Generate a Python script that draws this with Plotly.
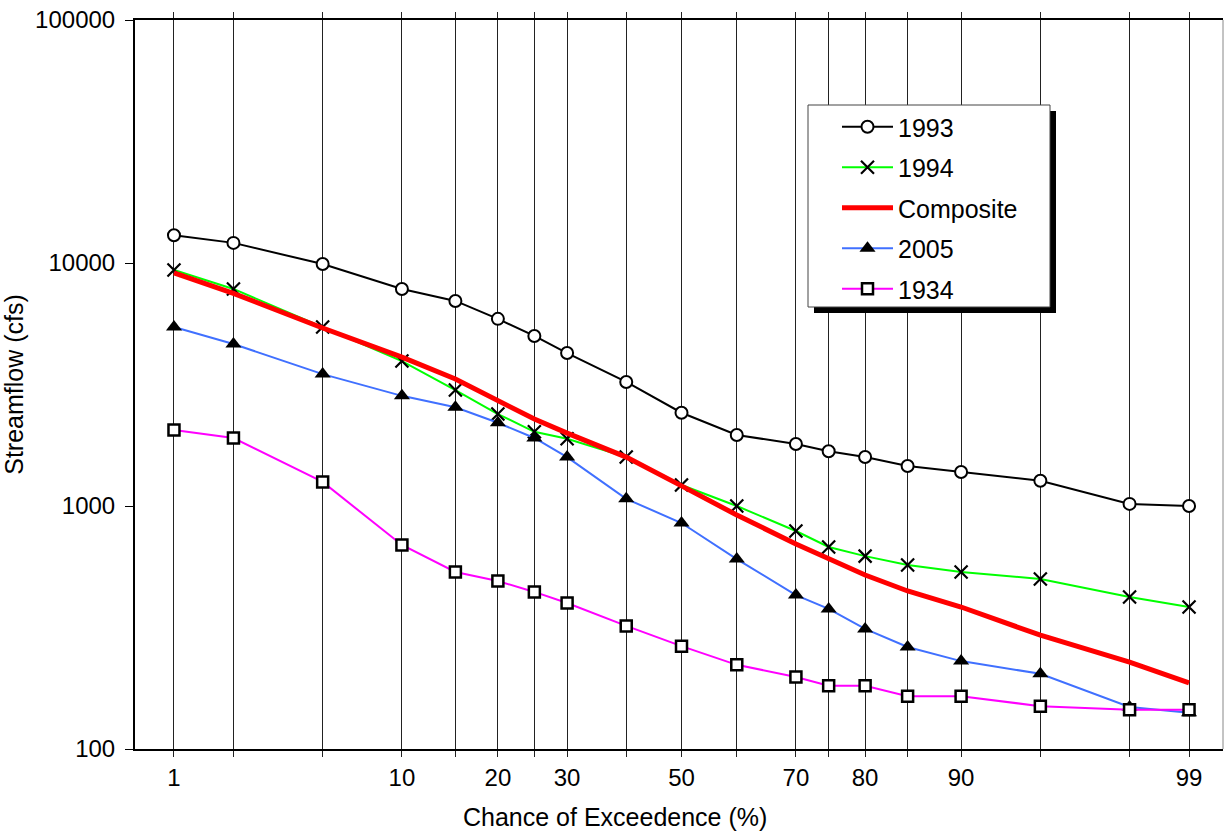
import plotly.graph_objects as go
from statistics import NormalDist

# Chance of exceedence (%) at each plotted point
pct = [1, 2, 5, 10, 15, 20, 25, 30, 40, 50, 60, 70, 75, 80, 85, 90, 95, 98, 99]
tick_labels = ["1", "", "", "10", "", "20", "", "30", "", "50", "", "70", "", "80", "", "90", "", "", "99"]

flow_1993 = [13000, 12100, 9900, 7820, 6980, 5890, 5010, 4260, 3240, 2420, 1960, 1800, 1680, 1590, 1460, 1380, 1270, 1020, 1000]
flow_1994 = [9360, 7820, 5450, 3950, 3000, 2390, 2020, 1890, 1590, 1220, 1000, 789, 678, 622, 572, 535, 501, 422, 384]
flow_comp = [9100, 7500, 5400, 4100, 3330, 2730, 2280, 1995, 1590, 1210, 918, 698, 605, 520, 447, 384, 294, 228, 187]
flow_2005 = [5450, 4640, 3490, 2840, 2550, 2200, 1905, 1590, 1070, 851, 605, 430, 377, 312, 263, 230, 204, 149, 141]
flow_1934 = [2055, 1905, 1256, 691, 535, 491, 443, 399, 321, 265, 222, 198, 182, 182, 165, 165, 150, 145, 145]

nd = NormalDist()
z = [nd.inv_cdf(p / 100.0) for p in pct]

FONT = "Liberation Sans, Arial, sans-serif"
fig = go.Figure()

fig.add_trace(go.Scatter(x=z, y=flow_1993, name="1993", mode="lines+markers", legendgroup="a",
                         line=dict(color="black", width=2),
                         marker=dict(symbol="circle", size=12, color="white",
                                     line=dict(color="black", width=2))))
fig.add_trace(go.Scatter(x=z, y=flow_1994, name="1994", mode="lines+markers", legendgroup="b",
                         line=dict(color="#00ff00", width=2),
                         marker=dict(symbol="x-thin", size=13, color="black",
                                     line=dict(color="black", width=2.2))))
fig.add_trace(go.Scatter(x=z, y=flow_comp, name="Composite", mode="lines", legendgroup="c",
                         line=dict(color="#ff0000", width=5)))
fig.add_trace(go.Scatter(x=z, y=flow_2005, name="2005", mode="lines+markers", legendgroup="d",
                         line=dict(color="#4070ff", width=2),
                         marker=dict(symbol="triangle-up", size=14, color="black",
                                     line=dict(color="black", width=0))))
fig.add_trace(go.Scatter(x=z, y=flow_1934, name="1934", mode="lines+markers", legendgroup="e",
                         line=dict(color="#ff00ff", width=2),
                         marker=dict(symbol="square", size=11, color="white",
                                     line=dict(color="black", width=2.5))))

W_PLOT = 1225 - 135 - 2
H_PLOT = 832 - 20 - 83
def px(xp):
    return (xp - 135) / W_PLOT
def py(yp):
    return (749 - yp) / H_PLOT

fig.update_layout(
    width=1225, height=832,
    margin=dict(l=135, r=2, t=20, b=83),
    paper_bgcolor="white", plot_bgcolor="white",
    font=dict(family=FONT, size=24, color="black"),
    showlegend=True,
    legend=dict(x=px(837), y=py(104), xanchor="left", yanchor="top",
                bgcolor="rgba(0,0,0,0)", borderwidth=0,
                font=dict(family=FONT, size=25, color="black"),
                itemwidth=51, traceorder="grouped", tracegroupgap=5),
    xaxis=dict(range=[-2.505, 2.482], tickmode="array", tickvals=z, ticktext=tick_labels,
               showgrid=True, gridcolor="#222222", gridwidth=1,
               ticks="outside", ticklen=6, tickcolor="#222222", tickwidth=1,
               showline=True, linecolor="black", linewidth=2, mirror="allticks",
               zeroline=False, tickfont=dict(size=24)),
    yaxis=dict(type="log", range=[2, 5], tickmode="array",
               tickvals=[100, 1000, 10000, 100000], ticktext=["100", "1000", "10000", "100000"],
               showgrid=False, ticks="outside", ticklen=8, tickcolor="black", tickwidth=1,
               showline=True, linecolor="black", linewidth=2, mirror=False,
               zeroline=False, ticklabelstandoff=5,
               title=dict(text="Streamflow (cfs)", standoff=6, font=dict(size=25)),
               tickfont=dict(size=24)),
)
# x-axis title centred on the figure
fig.add_annotation(text="Chance of Exceedence (%)", xref="paper", yref="paper",
                   x=px(615), y=0, yshift=-68, xanchor="center", yanchor="middle",
                   showarrow=False, font=dict(family=FONT, size=25, color="black"))
# right frame edge (thin gray)
fig.add_shape(type="line", xref="paper", yref="paper", x0=1, x1=1, y0=0, y1=1,
              line=dict(color="#888888", width=1))
# legend box with drop shadow
fig.add_shape(type="rect", xref="paper", yref="paper", layer="above",
              x0=px(814), x1=px(1056), y0=py(313), y1=py(111),
              fillcolor="black", line=dict(width=0))
fig.add_shape(type="rect", xref="paper", yref="paper", layer="above",
              x0=px(808), x1=px(1050), y0=py(307), y1=py(105),
              fillcolor="white", line=dict(color="#444444", width=1))

fig.write_html("out.html")
